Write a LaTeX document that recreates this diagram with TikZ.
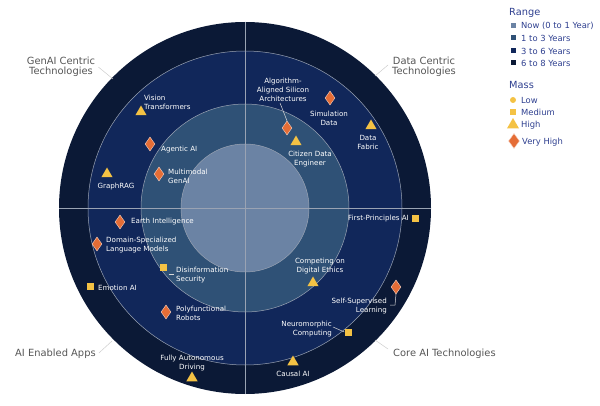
\documentclass[tikz,border=0pt]{standalone}
\usepackage{fontspec}
\setmainfont{DejaVu Sans}
\usetikzlibrary{shapes.geometric}
\definecolor{ringA}{HTML}{0B1936}
\definecolor{ringB}{HTML}{11275A}
\definecolor{ringC}{HTML}{2F5176}
\definecolor{ringD}{HTML}{6B83A4}
\definecolor{gridc}{HTML}{9AA3B3}
\definecolor{mor}{HTML}{E56D36}
\definecolor{myel}{HTML}{F4C244}
\definecolor{legt}{HTML}{2E3F8F}
\definecolor{catc}{HTML}{555555}
\tikzset{
  lbl/.style={text=white, font=\fontsize{7.1}{9}\selectfont, inner sep=0pt},
  cat/.style={text=catc, font=\fontsize{9.9}{10.5}\selectfont, inner sep=0pt, align=center},
  dia/.style={diamond, fill=mor, draw=white!70!mor, line width=0.4pt, minimum width=10pt, minimum height=14pt, inner sep=0pt},
  tri/.style={regular polygon, regular polygon sides=3, fill=myel, minimum size=13pt, inner sep=0pt},
  sqm/.style={rectangle, fill=myel, minimum size=7pt, inner sep=0pt},
  lead/.style={draw=white!85!black, line width=0.5pt},
  catlead/.style={draw=gray!40, line width=0.5pt},
  legtxt/.style={text=legt, font=\fontsize{8.4}{9}\selectfont, anchor=west, inner sep=0pt},
  leghead/.style={text=legt, font=\fontsize{9.8}{10}\selectfont, anchor=west, inner sep=0pt},
  legsq/.style={rectangle, minimum size=5pt, inner sep=0pt}
}
\begin{document}
\begin{tikzpicture}[x=1pt,y=-1pt]
\useasboundingbox (0,0) rectangle (600,406);
% rings
\fill[ringA] (245,208) circle[radius=186pt];
\fill[ringB] (245,208) circle[radius=157pt];
\fill[ringC] (245,208) circle[radius=104pt];
\fill[ringD] (245,208) circle[radius=64pt];
\draw[gridc, line width=0.5pt] (245,208) circle[radius=157pt];
\draw[gridc, line width=0.5pt] (245,208) circle[radius=104pt];
\draw[gridc, line width=0.5pt] (245,208) circle[radius=64pt];
\draw[gridc, line width=0.5pt] (59,208) -- (431,208);
\draw[gridc, line width=0.5pt] (245,22) -- (245,394);

% category labels
\node[cat] (cGen) at (61,67) {GenAI Centric\\Technologies};
\node[cat] (cData) at (424,67) {Data Centric\\Technologies};
\node[cat, anchor=west] (cApps) at (15,354) {AI Enabled Apps};
\node[cat, anchor=west] (cCore) at (393,354) {Core AI Technologies};
\coordinate (kGen) at (113,79);
\coordinate (kData) at (375,76);
\coordinate (kApps) at (112,341);
\coordinate (kCore) at (375,340);
\draw[catlead] (cGen.east) ++(3,0) -- (kGen);
\draw[catlead] (cData.west) ++(-4,-2) -- (kData);
\draw[catlead] (cApps.east) ++(3,-1) -- (kApps);
\draw[catlead] (cCore.west) ++(-5,-5) -- (kCore);

% GenAI Centric
\node[tri] (mVT) at (141,112) {};
\node[lbl, anchor=west, align=left] (tVT) at (144,102.5) {Vision\\Transformers};
\node[dia] (mAg) at (150,144) {};
\node[lbl, anchor=west] (tAg) at (161,150) {Agentic AI};
\node[dia] (mMM) at (159,174) {};
\node[lbl, anchor=west, align=left] (tMM) at (168,176.5) {Multimodal\\GenAI};
\node[tri] (mGR) at (107,174) {};
\node[lbl] (tGR) at (116,187) {GraphRAG};

% Data Centric
\node[dia] (mAS) at (287,128) {};
\node[lbl, align=center] (tAS) at (283,90) {Algorithm-\\Aligned Silicon\\Architectures};
\draw[lead] (tAS.south) ++(-3,1) -- (mAS.north);
\node[dia] (mSD) at (330,98) {};
\node[lbl, align=center] (tSD) at (329,118) {Simulation\\Data};
\node[tri] (mDF) at (371,126) {};
\node[lbl, align=center] (tDF) at (368,142.5) {Data\\Fabric};
\node[tri] (mCE) at (296,142) {};
\node[lbl, align=center] (tCE) at (310,159.5) {Citizen Data\\Engineer};

% AI Enabled Apps
\node[dia] (mEI) at (120,222) {};
\node[lbl, anchor=west] (tEI) at (131,222) {Earth Intelligence};
\node[dia] (mDS) at (97,244) {};
\node[lbl, anchor=west, align=left] (tDS) at (106,245.5) {Domain-Specialized\\Language Models};
\node[sqm] (mDI) at (163,268) {};
\node[lbl, anchor=west, align=left] (tDI) at (176,275.5) {Disinformation\\Security};
\draw[lead] (mDI.south east) ++(2,3) -- ++(5,0);
\node[sqm] (mEA) at (90,287) {};
\node[lbl, anchor=west] (tEA) at (98,288) {Emotion AI};
\node[dia] (mPR) at (166,312) {};
\node[lbl, anchor=west, align=left] (tPR) at (176,313.5) {Polyfunctional\\Robots};
\node[tri] (mFA) at (192,378) {};
\node[lbl, align=center] (tFA) at (192,363.5) {Fully Autonomous\\Driving};

% Core AI
\node[sqm] (mFP) at (415,219) {};
\node[lbl, anchor=east] (tFP) at (409,219) {First-Principles AI};
\node[tri] (mCD) at (313,283) {};
\node[lbl, align=center] (tCD) at (320,266.5) {Competing on\\Digital Ethics};
\node[dia] (mSS) at (396,287) {};
\node[lbl, anchor=east, align=right] (tSS) at (387,306.5) {Self-Supervised\\Learning};
\coordinate (bSS) at (395,305);
\draw[lead] (mSS.south) -- (bSS) -- ++(-5,0);
\node[sqm] (mNC) at (348,332) {};
\node[lbl, anchor=east, align=right] (tNC) at (332,329.5) {Neuromorphic\\Computing};
\draw[lead] (333,327) -- (mNC.west);
\node[tri] (mCA) at (293,362) {};
\node[lbl] (tCA) at (293,374) {Causal AI};

% legend
\node[leghead] (lR) at (509,13) {Range};
\node[legsq, fill=ringD] (s1) at (513,26) {};
\node[legtxt] (l1) at (521,26) {Now (0 to 1 Year)};
\node[legsq, fill=ringC] (s2) at (513,38) {};
\node[legtxt] (l2) at (521,38) {1 to 3 Years};
\node[legsq, fill=ringB] (s3) at (513,51) {};
\node[legtxt] (l3) at (521,51) {3 to 6 Years};
\node[legsq, fill=ringA] (s4) at (513,63) {};
\node[legtxt] (l4) at (521,63) {6 to 8 Years};
\node[leghead] (lM) at (509,85) {Mass};
\node[circle, fill=myel, minimum size=6pt, inner sep=0pt] (g1) at (513,100) {};
\node[legtxt] (m1) at (521,100) {Low};
\node[sqm, minimum size=6pt] (g2) at (513,112) {};
\node[legtxt] (m2) at (521,112) {Medium};
\node[tri, minimum size=14pt] (g3) at (513,125) {};
\node[legtxt] (m3) at (521,125) {High};
\node[dia, minimum width=11pt, minimum height=15pt] (g4) at (514,141) {};
\node[legtxt] (m4) at (522,142) {Very High};
\end{tikzpicture}
\end{document}
